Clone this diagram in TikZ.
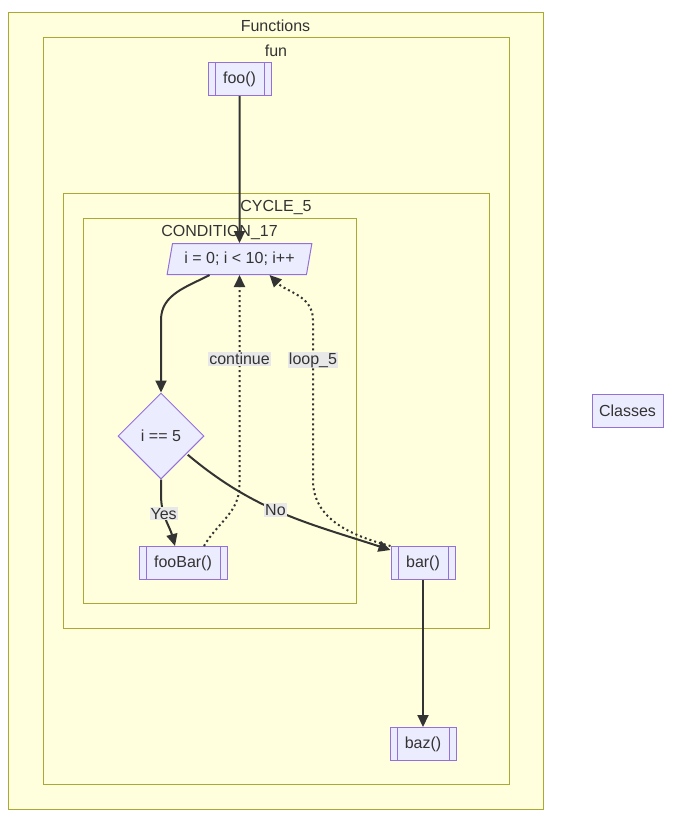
\documentclass[tikz,border=0pt]{standalone}
\usepackage{fontspec}
\setmainfont{Liberation Sans}
\usepackage{tikz}
\usetikzlibrary{shapes.geometric,arrows.meta}

\definecolor{clusterfill}{HTML}{FFFFDE}
\definecolor{clusterline}{HTML}{AAAA33}
\definecolor{nodefill}{HTML}{ECECFF}
\definecolor{nodeline}{HTML}{9370DB}
\definecolor{inktext}{HTML}{333333}
\definecolor{labelbg}{HTML}{E8E8E8}

\tikzset{
    cluster/.style={draw=clusterline, fill=clusterfill, line width=1pt},
    clustertitle/.style={text=inktext, inner sep=0pt},
    block/.style={draw=nodeline, fill=nodefill, line width=1pt, text=inktext,
        minimum height=33pt, inner sep=0pt},
    subroutine/.style={block,
        path picture={
            \draw[nodeline, line width=1pt]
                ([xshift=7pt]path picture bounding box.north west) --
                ([xshift=7pt]path picture bounding box.south west)
                ([xshift=-7pt]path picture bounding box.north east) --
                ([xshift=-7pt]path picture bounding box.south east);
        }},
    loopbox/.style={block, trapezium, trapezium left angle=72,
        trapezium right angle=108, trapezium stretches=true,
        minimum width=145pt, minimum height=31pt},
    decision/.style={block, diamond, minimum width=86pt, minimum height=86pt},
    edge/.style={draw=inktext, line width=2pt,
        -{Triangle[length=12pt,width=11pt]}},
    dottededge/.style={edge, dash pattern=on 2pt off 3pt},
    edgelabel/.style={fill=labelbg, text=inktext, inner sep=1pt}
}

\begin{document}
\begin{tikzpicture}[x=1pt, y=-1pt, font=\fontsize{16}{19}\selectfont]
    \useasboundingbox (0,0) rectangle (679,823);

    % Clusters
    \draw[cluster] (8,12) rectangle (543,809);
    \node[clustertitle] (functionsTitle) at (275.5,26) {Functions};
    \draw[cluster] (43,37) rectangle (509,784);
    \node[clustertitle] (funTitle) at (276,51) {fun};
    \draw[cluster] (63,193) rectangle (489,628);
    \node[clustertitle] (cycleTitle) at (276,207) {CYCLE\_5};
    \draw[cluster] (83,218) rectangle (356,603);
    \node[clustertitle] (conditionTitle) at (219.5,232) {CONDITION\_17};

    % Nodes
    \node[subroutine, minimum width=63pt] (foo) at (239.5,79) {foo()};
    \node[loopbox] (loop) at (239.5,259) {i = 0; i < 10; i++};
    \node[decision] (cond) at (161,436) {i == 5};
    \node[subroutine, minimum width=88pt] (fooBar) at (183,563) {fooBar()};
    \node[subroutine, minimum width=64pt] (bar) at (423,563) {bar()};
    \node[subroutine, minimum width=66pt] (baz) at (423,744) {baz()};
    \node[block, minimum width=71pt] (classes) at (627.5,411) {Classes};

    % Edges
    \draw[edge] (foo.south) -- (loop.north);
    \draw[edge] ([xshift=-30pt]loop.south) to[out=-152, in=90] (161,320) -- (cond.north);
    \draw[edge] (cond.south) -- (161,495) to[out=-90, in=105]
        node[edgelabel, pos=0.35] {Yes} ([xshift=-8pt]fooBar.north);
    \draw[edge] ([shift={(5pt,3pt)}]cond.south east) to[out=-40, in=162]
        node[edgelabel, pos=0.46] {No} ([yshift=-4pt]bar.north west);
    \draw[dottededge] ([xshift=21pt]fooBar.north) to[out=60, in=-90] (239.5,485)
        -- node[edgelabel, pos=0.6] {continue} (loop.south);
    \draw[dottededge] (bar.north west) to[out=165, in=-90] (313,480)
        -- node[edgelabel, pos=0.75] {loop\_5} (313,320) to[out=90, in=-45] ([xshift=30pt]loop.south);
    \draw[edge] (bar.south) -- (baz.north);
\end{tikzpicture}
\end{document}
